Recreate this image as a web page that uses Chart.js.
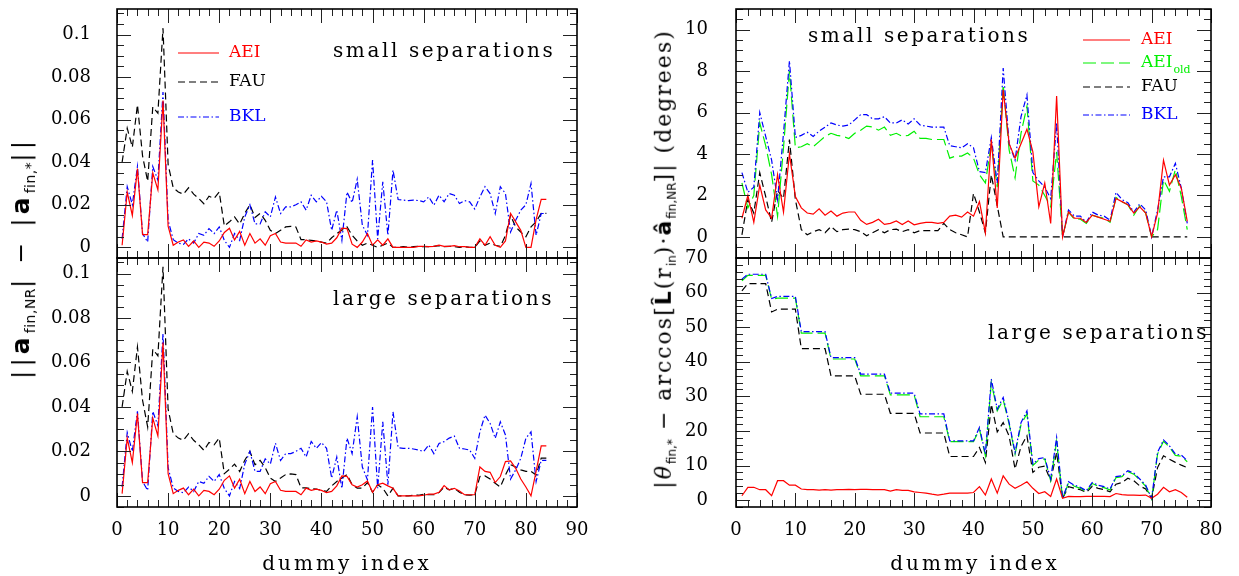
<!DOCTYPE html>
<html>
<head>
<meta charset="utf-8">
<script src="https://cdn.jsdelivr.net/npm/chart.js@4"></script>
<style>
html, body { margin:0; padding:0; background:#fff; }
#wrap { position:relative; width:1239px; height:576px; overflow:hidden; font-family:'DejaVu Serif', serif; color:#000; }
#wrap canvas { position:absolute; left:0; top:0; pointer-events:none; }
.note { position:absolute; white-space:nowrap; font-size:20px; line-height:24px; letter-spacing:2.6px; }
.xt { position:absolute; white-space:nowrap; font-size:20px; letter-spacing:3px; transform:translate(-50%,-50%); }
.yt { position:absolute; white-space:nowrap; font-size:22px; letter-spacing:2px; transform:translate(-50%,-50%) rotate(-90deg); }
.yt sub { font-family:'DejaVu Sans', sans-serif; font-size:12px; letter-spacing:0; }
.yt.big { font-size:25px; letter-spacing:4px; }
.yt.big sub { font-size:14px; letter-spacing:0.5px; }
.bv { font-family:'DejaVu Sans', sans-serif; font-weight:bold; }
</style>
</head>
<body>
<div id="wrap">
  <canvas id="tl" width="1239" height="576"></canvas>
  <canvas id="bl" width="1239" height="576"></canvas>
  <canvas id="tr" width="1239" height="576"></canvas>
  <canvas id="br" width="1239" height="576"></canvas>

  <div class="note" style="left:333px;top:38px">small separations</div>
  <div class="note" style="left:333px;top:286px">large separations</div>
  <div class="note" style="left:808px;top:23px">small separations</div>
  <div class="note" style="left:988px;top:320px">large separations</div>

  <div class="xt" style="left:347px;top:563px">dummy index</div>
  <div class="xt" style="left:975px;top:563px">dummy index</div>

  <div class="yt big" style="left:22px;top:258px">||<b class="bv">a</b><sub>fin,NR</sub>| − |<b class="bv">a</b><sub>fin,*</sub>||</div>
  <div class="yt" style="left:665px;top:259px">|<i>θ</i><sub>fin,*</sub> − arccos[<b class="bv">L̂</b>(r<sub>in</sub>)·<b class="bv">â</b><sub>fin,NR</sub>]| (degrees)</div>
</div>

<script>
// dummy index for the two columns
const idxLeft = [1,2,3,4,5,6,7,8,9,10,11,12,13,14,15,16,17,18,19,20,21,22,23,24,25,26,27,28,29,30,
  31,32,33,34,35,36,37,38,39,40,41,42,43,44,45,46,47,48,49,50,51,52,53,54,55,56,57,58,59,60,
  61,62,63,64,65,66,67,68,69,70,71,72,73,74,75,76,77,78,79,80,81,82,83,84];
const idxRight = [1,2,3,4,5,6,7,8,9,10,11,12,13,14,15,16,17,18,19,20,21,22,23,24,25,26,27,28,29,30,
  31,32,33,34,35,36,37,38,39,40,41,42,43,44,45,46,47,48,49,50,51,52,53,54,55,56,57,58,59,60,
  61,62,63,64,65,66,67,68,69,70,71,72,73,74,75,76];

// spin magnitude differences, small separations
const tlAEI = [0.001,0.026,0.015,0.037,0.006,0.006,0.035,0.027,0.069,0.010,
  0.001,0.0025,0.0035,0.0005,0.003,0.000,0.0025,0.002,0.0005,0.003,
  0.007,0.009,0.0035,0.0075,0.001,0.0065,0.002,0.004,0.001,0.0055,
  0.0065,0.0025,0.002,0.002,0.002,0.0005,0.0035,0.0025,0.003,0.0025,
  0.0015,0.002,0.0045,0.009,0.0088,0.0015,0.0,0.0025,0.0065,0.001,
  0.0035,0.001,0.004,0.0,0.0,0.0,0.0,0.0,0.0005,0.0005,
  0.0003,0.0005,0.001,0.0005,0.0005,0.0008,0.0003,0.0003,0.0,0.0,
  0.004,0.001,0.005,0.001,0.0,0.003,0.016,0.012,0.008,0.0,
  0.0,0.013,0.0225,0.0225];
const tlFAU = [0.04,0.056,0.047,0.067,0.043,0.031,0.066,0.063,0.103,0.039,
  0.028,0.026,0.025,0.028,0.025,0.023,0.0205,0.024,0.023,0.026,
  0.010,0.012,0.0143,0.011,0.016,0.020,0.014,0.016,0.0127,0.008,
  0.0065,0.008,0.0096,0.0099,0.0096,0.0036,0.0036,0.0033,0.003,0.0025,
  0.002,0.0045,0.0065,0.008,0.0096,0.0057,0.003,0.001,0.002,0.001,
  0.0,0.001,0.002,0.0,0.0,0.0003,0.0,0.0003,0.0005,0.0003,
  0.0003,0.0005,0.0008,0.0003,0.0005,0.0003,0.0,0.0003,0.0,0.0,
  0.003,0.001,0.002,0.001,0.0005,0.0055,0.015,0.0096,0.0072,0.005,
  0.0096,0.012,0.016,0.016];
const tlBKL = [0.004,0.0285,0.02,0.038,0.0065,0.0025,0.038,0.0316,0.073,0.0127,
  0.0036,0.002,0.0014,0.004,0.002,0.0065,0.0057,0.0088,0.0065,0.0096,
  0.0033,0.0,0.0065,0.0033,0.0143,0.02,0.011,0.011,0.0167,0.0143,
  0.0237,0.0159,0.019,0.019,0.02,0.0214,0.0175,0.0245,0.0214,0.024,
  0.0214,0.008,0.0175,0.0033,0.026,0.021,0.032,0.0104,0.0057,0.041,
  0.004,0.0308,0.0057,0.0363,0.0225,0.0222,0.022,0.0222,0.022,0.0214,
  0.0237,0.0198,0.0245,0.0214,0.0253,0.0245,0.0206,0.022,0.0214,0.018,
  0.0237,0.0285,0.0253,0.0159,0.0285,0.0253,0.0072,0.0127,0.0175,0.02,
  0.03,0.0057,0.0159,0.0159];

// spin magnitude differences, large separations
const blAEI = [0.001,0.026,0.015,0.037,0.006,0.006,0.035,0.027,0.069,0.010,
  0.001,0.0025,0.0035,0.0005,0.003,0.000,0.0025,0.002,0.0005,0.003,
  0.007,0.009,0.0035,0.0075,0.001,0.0065,0.002,0.004,0.001,0.0055,
  0.0065,0.0025,0.002,0.002,0.002,0.0005,0.0035,0.0025,0.003,0.0025,
  0.0015,0.002,0.0045,0.009,0.0088,0.005,0.004,0.005,0.0067,0.0016,
  0.005,0.0057,0.0045,0.0034,0,0,0,0,0,0.0003,
  0.0008,0.0008,0.0016,0.0046,0.0027,0.0034,0.0022,0.0005,0.0005,0.0005,
  0.013,0.011,0.0106,0.006,0.0087,0.0154,0.0157,0.0124,0.0076,0.004,
  0.0,0.011,0.0225,0.0225];
const blFAU = [0.04,0.056,0.047,0.067,0.043,0.031,0.066,0.063,0.103,0.039,
  0.028,0.026,0.025,0.028,0.025,0.023,0.0205,0.024,0.023,0.026,
  0.010,0.012,0.0143,0.011,0.016,0.020,0.014,0.016,0.0127,0.008,
  0.0065,0.008,0.0096,0.0099,0.0096,0.0036,0.0036,0.0033,0.003,0.0025,
  0.002,0.0045,0.0065,0.008,0.0096,0.005,0.0035,0.0035,0.006,0.0016,
  0.005,0.0035,0.0,0.0035,0,0,0,0.0003,0.0003,0.0007,
  0.0005,0.0005,0.0015,0.004,0.0027,0.0034,0.0016,0.0005,0.0003,0.0005,
  0.0087,0.009,0.0076,0.0057,0.004,0.0094,0.014,0.013,0.0117,0.011,
  0.011,0.0094,0.017,0.017];
const blBKL = [0.004,0.0285,0.02,0.038,0.0065,0.0025,0.038,0.0316,0.073,0.0127,
  0.0036,0.002,0.0014,0.004,0.002,0.0065,0.0057,0.0088,0.0065,0.0096,
  0.0033,0.0,0.0065,0.0033,0.0143,0.02,0.011,0.011,0.0167,0.0143,
  0.0237,0.0159,0.019,0.019,0.02,0.0214,0.0175,0.0245,0.0214,0.024,
  0.0214,0.008,0.0175,0.0033,0.026,0.019,0.0356,0.013,0.0072,0.040,
  0.0034,0.0333,0.005,0.0378,0.0217,0.0214,0.0214,0.0211,0.0206,0.020,
  0.0229,0.019,0.0236,0.0244,0.026,0.0269,0.0214,0.0211,0.0206,0.0169,
  0.0288,0.0363,0.0326,0.0259,0.0333,0.0274,0.0076,0.0117,0.0169,0.0259,
  0.0288,0.0064,0.016,0.016];

// angle differences in degrees, small separations
const trAEI = [0.9,2.0,0.7,2.5,1.3,0.9,3.0,1.2,4.0,1.95,
  1.4,1.15,1.1,1.35,1.05,1.25,1.0,1.15,1.2,1.2,
  0.8,0.6,0.7,0.85,0.6,0.65,0.77,0.6,0.77,0.58,
  0.65,0.7,0.7,0.65,0.7,1.0,1.05,0.95,1.2,1.0,
  1.7,0.2,4.7,1.4,7.1,4.5,3.8,4.5,5.2,4.1,
  1.45,2.6,0.65,6.8,0,1.2,0.9,0.9,0.7,1.05,
  0.95,0.85,0.75,1.85,1.7,1.55,1.15,1.45,1.15,0,
  1.15,3.7,2.5,3.0,2.35,0.75];
const trOLD = [2.6,1.4,2.0,5.5,4.4,3.0,1.0,4.3,8.0,4.3,
  4.35,4.5,4.35,4.6,4.85,5.0,4.9,4.85,4.75,5.0,
  5.15,5.35,5.3,5.15,5.3,4.9,5.0,4.85,4.9,5.1,
  4.75,4.75,4.7,4.7,4.7,3.8,3.9,3.9,4.05,3.8,
  3.0,2.6,4.5,2.4,7.35,4.2,2.85,5.0,6.3,2.7,
  2.5,2.0,1.45,4.1,0,1.2,0.85,0.85,0.65,1.05,
  0.95,0.9,0.7,1.9,1.7,1.55,1.05,1.5,1.15,0,
  0.35,2.75,2.2,3.25,1.95,0.35];
const trFAU = [0.1,1.8,1.15,3.1,1.95,0.7,2.25,1.85,4.7,1.8,
  0.35,0.1,0.25,0.35,0.2,0.5,0.25,0.35,0.37,0.35,
  0.25,0.05,0.2,0.35,0.2,0.35,0.37,0.25,0.35,0.2,
  0.3,0.3,0.3,0.3,0.65,0.35,0.2,0.1,0.0,2.1,
  1.2,0.2,3.0,1.5,0,0,0,0,0,0,
  0,0,0,0,0,0,0,0,0,0,
  0,0,0,0,0,0,0,0,0,0,
  0,0,0,0,0,0];
const trBKL = [3.1,2.15,2.4,6.0,4.85,3.7,1.8,5.0,8.5,4.8,
  4.9,5.05,4.85,5.1,5.3,5.5,5.4,5.35,5.4,5.65,
  5.9,5.9,5.7,5.7,5.8,5.5,5.5,5.65,5.45,5.7,
  5.4,5.35,5.3,5.3,5.3,4.4,4.35,4.3,4.5,4.3,
  3.15,3.1,4.8,2.6,8.15,4.5,3.7,5.8,6.85,3.1,
  2.7,2.4,1.85,5.5,0,1.3,1.0,1.0,0.7,1.2,
  1.05,1.0,0.8,2.15,1.8,1.65,1.2,1.6,1.3,0,
  1.3,2.9,2.9,3.55,2.35,0.65];

// angle differences in degrees, large separations
const brAEI = [1.25,3.7,3.7,3.0,3.0,1.25,5.6,5.6,4.3,4.3,
  3.2,3.0,3.0,2.9,3.0,2.9,3.0,3.0,3.1,3.0,
  3.1,3.1,3.0,3.0,3.0,2.6,3.0,2.8,2.8,2.4,
  2.2,2.0,1.7,1.45,1.7,2.0,2.0,2.0,2.0,2.2,
  3.9,1.45,6.1,2.0,7.0,4.6,3.4,4.3,5.3,3.4,
  1.9,2.4,1.05,6.1,0.5,1.05,1.0,1.0,1.05,1.1,
  1.1,1.05,1.0,1.9,1.6,1.45,1.45,1.35,1.45,0.5,
  1.7,3.7,2.4,3.0,2.2,0.8];
const brOLD = [63.4,65.0,65.0,65.0,65.0,58.1,58.4,58.4,58.4,58.4,
  48.3,48.3,48.3,48.3,48.3,40.8,40.8,40.8,40.8,40.8,
  35.9,35.9,35.9,35.9,35.9,30.4,30.4,30.4,30.4,30.4,
  24.1,24.1,24.1,24.1,24.1,16.9,16.9,16.9,16.9,16.9,
  20.5,12.8,34.0,25.8,29.0,22.0,13.3,21.8,25.0,10.0,
  11.6,11.9,5.6,17.0,0.3,5.0,4.0,3.4,2.4,4.8,
  4.0,3.6,2.9,6.5,6.8,8.2,7.5,5.8,4.0,0.3,
  13.3,17.0,15.3,12.9,12.7,11.1];
const brFAU = [60.5,62.6,62.6,62.6,62.6,54.4,55.2,55.2,55.2,55.2,
  43.8,43.8,43.8,43.8,43.8,35.9,35.9,35.9,35.9,35.9,
  30.6,30.6,30.6,30.6,30.6,25.1,25.1,25.1,25.1,25.1,
  19.4,19.4,19.4,19.4,19.4,12.6,12.6,12.6,12.6,12.6,
  15.2,10.9,27.7,19.7,22.4,18.5,9.0,15.5,18.6,8.0,
  9.5,9.8,5.6,13.8,0.5,3.9,3.4,3.0,2.2,4.0,
  3.4,3.0,2.4,4.6,5.1,6.3,5.6,4.1,3.2,0.5,
  9.4,12.8,11.8,10.9,10.1,9.4];
const brBKL = [63.9,65.3,65.3,65.3,65.3,58.3,58.9,58.9,58.9,58.9,
  48.7,48.7,48.7,48.7,48.7,41.2,41.2,41.2,41.2,41.2,
  36.4,36.4,36.4,36.4,36.4,30.9,30.9,30.9,30.9,30.9,
  24.9,24.9,24.9,24.9,24.9,17.1,17.1,17.1,17.1,17.1,
  21.0,13.3,35.0,26.3,29.7,22.4,13.8,22.4,25.8,10.4,
  12.0,12.3,6.1,18.1,0.5,5.3,4.3,3.7,2.7,5.1,
  4.3,3.9,3.2,6.8,7.0,8.5,7.8,6.1,4.3,0.5,
  13.8,17.4,15.7,13.3,13.0,11.4];

const style = {
  AEI:     { color:'#ff0000', dash:[] },
  AEI_old: { color:'#00f000', dash:[13,5] },
  FAU:     { color:'#000000', dash:[7,4] },
  BKL:     { color:'#0000ff', dash:[6,2.5,1.5,2.5] }
};

Chart.defaults.font.family = "'DejaVu Serif', serif";
Chart.defaults.font.size = 18;
Chart.defaults.color = '#000';

function line(label, xs, ys) {
  const s = style[label];
  return {
    label: label,
    data: xs.map((x, i) => ({ x: x, y: ys[i] })),
    borderColor: s.color,
    borderDash: s.dash,
    borderWidth: 1.2,
    pointRadius: 0,
    fill: false,
    tension: 0
  };
}

// minor / major tick positions along a scale
function marks(min, max, major, minor, cb) {
  const k0 = Math.ceil(min / minor - 1e-6), k1 = Math.floor(max / minor + 1e-6);
  for (let k = k0; k <= k1; k++) {
    const v = k * minor, r = v / major;
    cb(v, Math.abs(r - Math.round(r)) < 1e-6 ? 14 : 7);
  }
}

const tickFrame = {
  id: 'tickFrame',
  afterDraw(chart, args, o) {
    const { ctx, chartArea: a, scales: { x, y } } = chart;
    ctx.save();
    ctx.strokeStyle = '#222';
    ctx.lineWidth = 1;
    ctx.beginPath();
    marks(x.min, x.max, o.x[0], o.x[1], (v, len) => {
      const px = Math.round(x.getPixelForValue(v)) + 0.5;
      ctx.moveTo(px, a.bottom); ctx.lineTo(px, a.bottom - len);
      ctx.moveTo(px, a.top); ctx.lineTo(px, a.top + len);
    });
    marks(y.min, y.max, o.y[0], o.y[1], (v, len) => {
      const py = Math.round(y.getPixelForValue(v)) + 0.5;
      ctx.moveTo(a.left, py); ctx.lineTo(a.left + len, py);
      ctx.moveTo(a.right, py); ctx.lineTo(a.right - len, py);
    });
    ctx.stroke();
    ctx.lineWidth = 1.6;
    ctx.strokeStyle = '#000';
    ctx.strokeRect(a.left, a.top, a.width, a.height);
    ctx.restore();
  }
};

const lineKey = {
  id: 'lineKey',
  afterDraw(chart, args, o) {
    if (!o.items) return;
    const ctx = chart.ctx;
    ctx.save();
    o.items.forEach((name, i) => {
      const ds = chart.data.datasets.find(d => d.label === name);
      const y = o.ys[i];
      ctx.strokeStyle = ds.borderColor;
      ctx.lineWidth = ds.borderWidth;
      ctx.setLineDash(ds.borderDash);
      ctx.beginPath(); ctx.moveTo(o.x0, y); ctx.lineTo(o.x1, y); ctx.stroke();
      ctx.fillStyle = ds.borderColor;
      ctx.textBaseline = 'middle';
      ctx.font = "17px 'DejaVu Serif'";
      const main = name.split('_')[0];
      ctx.fillText(main, o.tx, y);
      if (name.includes('_')) {
        const w = ctx.measureText(main).width;
        ctx.font = "11px 'DejaVu Serif'";
        ctx.fillText(name.split('_')[1], o.tx + w + 1, y + 7);
      }
    });
    ctx.restore();
  }
};

function panel(id, xs, sets, xr, yr, pad, showX, fmt, key) {
  new Chart(document.getElementById(id), {
    type: 'line',
    data: { datasets: sets.map(s => line(s[0], xs, s[1])) },
    options: {
      responsive: false,
      animation: false,
      events: [],
      layout: { padding: pad },
      plugins: {
        legend: { display: false },
        tooltip: { enabled: false },
        tickFrame: { x: [xr[2], xr[3]], y: [yr[2], yr[3]] },
        lineKey: key || {}
      },
      scales: {
        x: {
          type: 'linear', min: xr[0], max: xr[1],
          grid: { display: false, drawTicks: false }, border: { display: false },
          ticks: { display: showX, stepSize: xr[2], padding: 13, includeBounds: false, autoSkip: false, maxRotation: 0 },
          afterFit: s => { s.height = showX ? 40 : 0; s.paddingLeft = 0; s.paddingRight = 0; }
        },
        y: {
          type: 'linear', min: yr[0], max: yr[1],
          grid: { display: false, drawTicks: false }, border: { display: false },
          ticks: { stepSize: yr[2], padding: pad.tickPad, includeBounds: false, autoSkip: false, callback: fmt },
          afterFit: s => { s.width = 80; s.paddingTop = 0; s.paddingBottom = 0; }
        }
      }
    },
    plugins: [tickFrame, lineKey]
  });
}

const fmtLeft = v => String(+v.toFixed(3));
const fmtRight = v => String(+v.toFixed(1));

panel('tl', idxLeft, [['AEI', tlAEI], ['BKL', tlBKL], ['FAU', tlFAU]],
  [0, 90, 10, 2], [-0.005, 0.112, 0.02, 0.005],
  { left: 37, right: 662, top: 9, bottom: 318, tickPad: 26 }, false, fmtLeft,
  { items: ['AEI', 'FAU', 'BKL'], ys: [53, 82, 117], x0: 178, x1: 219, tx: 229 });
panel('bl', idxLeft, [['AEI', blAEI], ['BKL', blBKL], ['FAU', blFAU]],
  [0, 90, 10, 2], [-0.005, 0.107, 0.02, 0.005],
  { left: 37, right: 662, top: 258, bottom: 29, tickPad: 26 }, true, fmtLeft);
panel('tr', idxRight, [['AEI', trAEI], ['BKL', trBKL], ['AEI_old', trOLD], ['FAU', trFAU]],
  [0, 80, 10, 2], [-1.02, 11, 2, 0.5],
  { left: 656, right: 28, top: 9, bottom: 318, tickPad: 28 }, false, fmtRight,
  { items: ['AEI', 'AEI_old', 'FAU', 'BKL'], ys: [40, 63, 87, 115], x0: 1083, x1: 1130, tx: 1141 });
panel('br', idxRight, [['AEI', brAEI], ['BKL', brBKL], ['AEI_old', brOLD], ['FAU', brFAU]],
  [0, 80, 10, 2], [-2, 70, 10, 2],
  { left: 656, right: 28, top: 258, bottom: 29, tickPad: 28 }, true, fmtRight);
</script>
</body>
</html>
